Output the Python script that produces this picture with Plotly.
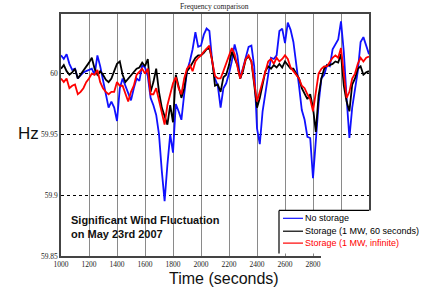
import plotly.graph_objects as go

time_s = list(range(1000, 3201, 20))

no_storage = [
    60.015, 60.012, 60.016, 60.008, 60.003, 60.004, 59.996, 59.999, 60.001, 60.002,
    60.003, 60.004, 59.999, 60.015, 60.006, 59.995, 59.985, 59.972, 59.977, 59.972,
    59.961, 59.988, 59.996, 59.990, 59.983, 59.978, 59.988, 59.996, 59.994, 60.007,
    60.005, 59.998, 59.980, 59.974, 59.966, 59.950, 59.920, 59.895, 59.925, 59.950,
    59.935, 59.975, 59.969, 59.962, 59.983, 60.002, 60.010, 60.020, 60.034, 60.022,
    60.023, 60.032, 60.037, 60.035, 60.010, 59.996, 59.990, 59.972, 59.988, 59.992,
    60.000, 60.010, 60.024, 60.015, 59.996, 60.005, 60.013, 60.022, 60.023, 60.006,
    59.955, 59.942, 59.969, 59.986, 59.999, 60.013, 60.012, 60.015, 60.035, 60.037,
    60.025, 60.042, 60.036, 60.026, 60.010, 59.990, 59.970, 59.962, 59.948, 59.947,
    59.914, 59.945, 59.975, 59.996, 59.999, 60.007, 60.006, 60.020, 60.024, 60.028,
    60.043, 60.018, 59.980, 59.947, 59.972, 59.988, 60.002, 60.026, 60.030, 60.023,
    60.016,
]

storage_60s = [
    60.004, 60.007, 60.002, 59.999, 60.001, 60.004, 59.996, 59.999, 60.002, 60.006,
    60.009, 60.013, 60.004, 59.999, 60.002, 59.999, 59.995, 59.993, 59.996, 60.002,
    60.008, 60.010, 59.999, 59.993, 59.996, 59.999, 60.002, 60.004, 60.005, 60.009,
    60.006, 60.012, 59.985, 59.993, 60.004, 59.985, 59.972, 59.965, 59.958, 59.974,
    59.960, 59.999, 59.990, 59.980, 59.988, 60.002, 60.005, 60.009, 60.013, 60.015,
    60.015, 60.017, 60.020, 60.021, 60.011, 59.990, 59.991, 59.985, 59.997, 59.999,
    60.007, 60.018, 60.013, 60.007, 59.996, 60.002, 60.012, 60.014, 60.010, 59.993,
    59.972, 59.980, 59.991, 60.002, 60.006, 60.004, 60.007, 60.005, 60.008, 60.005,
    60.010, 60.007, 60.004, 60.004, 60.000, 59.996, 59.988, 59.983, 59.979, 59.983,
    59.972, 59.952, 59.982, 59.996, 60.004, 60.007, 60.007, 60.008, 60.010, 60.009,
    60.016, 59.990, 59.977, 59.969, 59.991, 59.996, 60.004, 60.006, 59.999, 60.001,
    60.002,
]

storage_inf = [
    59.996, 59.993, 59.996, 59.988, 59.990, 59.991, 59.983, 59.985, 59.988, 59.993,
    59.996, 60.000, 59.999, 60.003, 59.993, 59.988, 59.985, 59.983, 59.985, 59.985,
    59.993, 59.990, 59.990, 59.983, 59.977, 59.985, 59.990, 59.999, 60.002, 60.004,
    60.000, 60.004, 59.983, 59.983, 59.988, 59.977, 59.969, 59.958, 59.974, 59.983,
    59.992, 59.997, 59.988, 59.983, 59.996, 60.004, 60.007, 60.002, 60.010, 60.013,
    60.015, 60.018, 60.021, 60.023, 60.010, 59.998, 59.996, 59.996, 60.002, 60.008,
    60.014, 60.021, 60.016, 60.006, 59.996, 60.004, 60.012, 60.015, 60.010, 59.993,
    59.977, 59.985, 59.994, 60.002, 60.010, 60.012, 60.008, 60.013, 60.010, 60.012,
    60.015, 60.012, 60.005, 60.002, 59.999, 59.996, 59.990, 59.988, 59.983, 59.979,
    59.969, 59.983, 60.000, 60.004, 60.006, 60.006, 60.010, 60.013, 60.015, 60.013,
    60.021, 60.000, 59.980, 59.985, 59.996, 60.000, 60.008, 60.013, 60.010, 60.013,
    60.014,
]

series_names = ["No storage", "Storage (1 MW, 60 seconds)", "Storage (1 MW, infinite)"]
series_colors = ["#1010ff", "#000000", "#ff0000"]
series_values = [no_storage, storage_60s, storage_inf]

x_ticks = [1000, 1200, 1400, 1600, 1800, 2000, 2200, 2400, 2600, 2800, 3000]
x_ticktext = ["1000", "1200", "1400", "1600", "1800", "2000", "2200", "2400", "2600", "2800", ""]
y_ticks = [59.85, 59.9, 59.95, 60.0]
y_ticktext = ["59.85", "59.9", "59.95", "60"]

fig = go.Figure()
for name, color, vals in zip(series_names, series_colors, series_values):
    fig.add_trace(go.Scatter(x=time_s, y=vals, mode="lines", name=name,
                             line=dict(color=color, width=1.8), showlegend=False))

tick_font = dict(family="Liberation Serif", size=7.5, color="#222222")
fig.update_layout(
    width=430, height=294,
    margin=dict(l=61, r=61, t=12, b=38),
    paper_bgcolor="white", plot_bgcolor="white",
    xaxis=dict(range=[1000, 3200], tickvals=x_ticks, ticktext=x_ticktext,
               showgrid=True, gridcolor="#8a8a8a", gridwidth=1,
               showline=True, linecolor="#444444", linewidth=1.5, mirror=True,
               ticks="", tickfont=tick_font, zeroline=False),
    yaxis=dict(range=[59.85, 60.049], tickvals=y_ticks, ticktext=y_ticktext,
               showgrid=True, gridcolor="#000000", gridwidth=1, griddash="dot",
               showline=True, linecolor="#444444", linewidth=1.5, mirror=True,
               ticks="", tickfont=tick_font, zeroline=False),
)

def px(x):
    return (x - 61) / 308.0

def py(y):
    return (256 - y) / 244.0

# legend box (white) covering lower-right corner
fig.add_shape(type="rect", xref="paper", yref="paper", x0=px(279), x1=px(430), y0=py(253.5), y1=py(210),
              fillcolor="white", line=dict(width=0), layer="above")
fig.add_shape(type="rect", xref="paper", yref="paper", x0=px(321), x1=px(430), y0=py(272), y1=py(253),
              fillcolor="white", line=dict(width=0), layer="above")
fig.add_shape(type="line", xref="paper", yref="paper", x0=px(279), x1=px(279), y0=py(253.5), y1=py(210),
              line=dict(color="black", width=1.2), layer="above")
fig.add_shape(type="line", xref="paper", yref="paper", x0=px(279), x1=px(369), y0=py(210), y1=py(210),
              line=dict(color="black", width=1.2), layer="above")

legend_rows = [218, 231, 243]
text_colors = ["#000000", "#000000", "#ff0000"]
for name, color, tcolor, ry in zip(series_names, series_colors, text_colors, legend_rows):
    fig.add_shape(type="line", xref="paper", yref="paper", x0=px(283), x1=px(303), y0=py(ry), y1=py(ry),
                  line=dict(color=color, width=1.2), layer="above")
    fig.add_annotation(xref="paper", yref="paper", x=px(303), y=py(ry), text=name,
                       showarrow=False, xanchor="left", yanchor="middle",
                       font=dict(family="Liberation Sans", size=9, color=tcolor))

fig.add_annotation(xref="paper", yref="paper", x=px(214), y=py(4), text="Frequency comparison",
                   showarrow=False, xanchor="center", yanchor="middle",
                   font=dict(family="Liberation Serif", size=7.5, color="#222222"))
fig.add_annotation(xref="paper", yref="paper", x=px(28), y=py(132), text="Hz",
                   showarrow=False, xanchor="center", yanchor="middle",
                   font=dict(family="Liberation Sans", size=17, color="#111111"))
fig.add_annotation(xref="paper", yref="paper", x=px(224), y=py(278.5), text="Time (seconds)",
                   showarrow=False, xanchor="center", yanchor="middle",
                   font=dict(family="Liberation Sans", size=16, color="#111111"))
fig.add_annotation(xref="paper", yref="paper", x=px(69), y=py(226.5),
                   text="<b>Significant Wind Fluctuation<br>on May 23rd 2007</b>",
                   showarrow=False, xanchor="left", yanchor="middle", align="left",
                   font=dict(family="Liberation Sans", size=11, color="#111111"))

fig.write_html("out.html", config={"displayModeBar": False},
               post_script="document.body.style.margin='0';document.body.style.overflow='hidden';")
